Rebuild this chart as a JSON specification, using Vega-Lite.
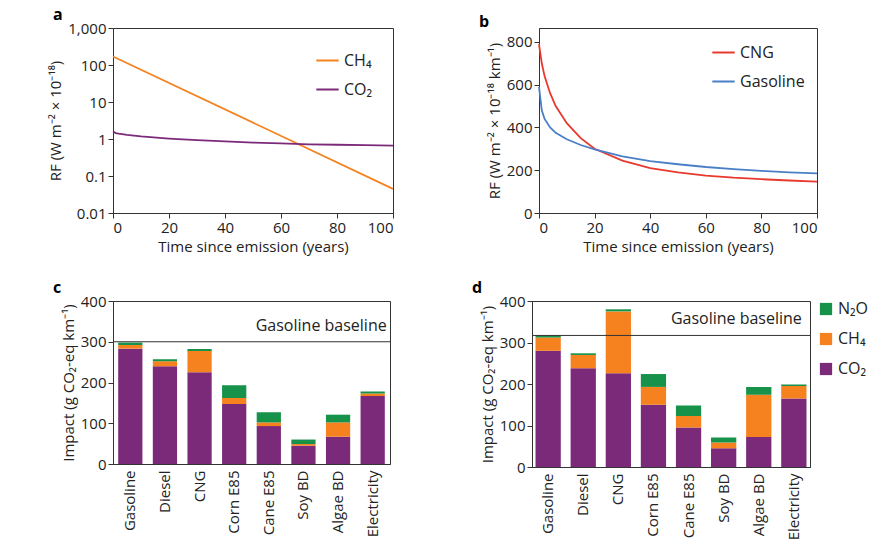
{
  "$schema": "https://vega.github.io/schema/vega-lite/v6.json",
  "padding": {"left": 48, "top": 6, "right": 0, "bottom": 0},
  "background": "white",
  "resolve": {"scale": {"color": "independent"}, "legend": {"color": "independent"}},
  "config": {
    "font": "Open Sans",
    "view": {"stroke": "#333", "strokeWidth": 1},
    "axis": {
      "grid": false, "domainColor": "#333", "tickColor": "#333", "labelFontSize": 15,
      "titleFontSize": 15, "titleFontWeight": "normal", "labelColor": "#222", "titleColor": "#222", "tickSize": 5
    },
    "title": {"anchor": "start", "fontSize": 16, "fontWeight": "bold", "frame": "group", "offset": 0},
    "legend": {"labelFontSize": 16, "labelColor": "#222", "title": null}
  },
  "datasets": {
    "a": [
      {"t": 0, "s": "CH₄", "v": 170}, {"t": 100, "s": "CH₄", "v": 0.045},
      {"t": 0, "s": "CO₂", "v": 1.6}, {"t": 1, "s": "CO₂", "v": 1.45}, {"t": 2, "s": "CO₂", "v": 1.4},
      {"t": 5, "s": "CO₂", "v": 1.3}, {"t": 10, "s": "CO₂", "v": 1.18}, {"t": 20, "s": "CO₂", "v": 1.03},
      {"t": 30, "s": "CO₂", "v": 0.93}, {"t": 40, "s": "CO₂", "v": 0.86}, {"t": 50, "s": "CO₂", "v": 0.8},
      {"t": 60, "s": "CO₂", "v": 0.76}, {"t": 70, "s": "CO₂", "v": 0.72}, {"t": 80, "s": "CO₂", "v": 0.7},
      {"t": 90, "s": "CO₂", "v": 0.68}, {"t": 100, "s": "CO₂", "v": 0.66}
    ],
    "b": [
      {"t": 0, "s": "CNG", "v": 790}, {"t": 1, "s": "CNG", "v": 700}, {"t": 2, "s": "CNG", "v": 640},
      {"t": 4, "s": "CNG", "v": 560}, {"t": 6, "s": "CNG", "v": 500}, {"t": 10, "s": "CNG", "v": 420},
      {"t": 15, "s": "CNG", "v": 350}, {"t": 20, "s": "CNG", "v": 300}, {"t": 30, "s": "CNG", "v": 245},
      {"t": 40, "s": "CNG", "v": 210}, {"t": 50, "s": "CNG", "v": 190}, {"t": 60, "s": "CNG", "v": 175},
      {"t": 70, "s": "CNG", "v": 165}, {"t": 80, "s": "CNG", "v": 158}, {"t": 90, "s": "CNG", "v": 152},
      {"t": 100, "s": "CNG", "v": 147},
      {"t": 0, "s": "Gasoline", "v": 590}, {"t": 1, "s": "Gasoline", "v": 480}, {"t": 2, "s": "Gasoline", "v": 440},
      {"t": 4, "s": "Gasoline", "v": 400}, {"t": 6, "s": "Gasoline", "v": 375}, {"t": 10, "s": "Gasoline", "v": 345},
      {"t": 15, "s": "Gasoline", "v": 318}, {"t": 20, "s": "Gasoline", "v": 298}, {"t": 30, "s": "Gasoline", "v": 265},
      {"t": 40, "s": "Gasoline", "v": 243}, {"t": 50, "s": "Gasoline", "v": 228}, {"t": 60, "s": "Gasoline", "v": 215},
      {"t": 70, "s": "Gasoline", "v": 205}, {"t": 80, "s": "Gasoline", "v": 197}, {"t": 90, "s": "Gasoline", "v": 190},
      {"t": 100, "s": "Gasoline", "v": 185}
    ],
    "c": [
      {"f": "Gasoline", "g": "CO₂", "o": 1, "v": 283}, {"f": "Gasoline", "g": "CH₄", "o": 2, "v": 9}, {"f": "Gasoline", "g": "N₂O", "o": 3, "v": 6},
      {"f": "Diesel", "g": "CO₂", "o": 1, "v": 240}, {"f": "Diesel", "g": "CH₄", "o": 2, "v": 12}, {"f": "Diesel", "g": "N₂O", "o": 3, "v": 5},
      {"f": "CNG", "g": "CO₂", "o": 1, "v": 225}, {"f": "CNG", "g": "CH₄", "o": 2, "v": 52}, {"f": "CNG", "g": "N₂O", "o": 3, "v": 5},
      {"f": "Corn E85", "g": "CO₂", "o": 1, "v": 147}, {"f": "Corn E85", "g": "CH₄", "o": 2, "v": 15}, {"f": "Corn E85", "g": "N₂O", "o": 3, "v": 31},
      {"f": "Cane E85", "g": "CO₂", "o": 1, "v": 93}, {"f": "Cane E85", "g": "CH₄", "o": 2, "v": 9}, {"f": "Cane E85", "g": "N₂O", "o": 3, "v": 25},
      {"f": "Soy BD", "g": "CO₂", "o": 1, "v": 45}, {"f": "Soy BD", "g": "CH₄", "o": 2, "v": 4}, {"f": "Soy BD", "g": "N₂O", "o": 3, "v": 11},
      {"f": "Algae BD", "g": "CO₂", "o": 1, "v": 67}, {"f": "Algae BD", "g": "CH₄", "o": 2, "v": 35}, {"f": "Algae BD", "g": "N₂O", "o": 3, "v": 19},
      {"f": "Electricity", "g": "CO₂", "o": 1, "v": 167}, {"f": "Electricity", "g": "CH₄", "o": 2, "v": 6}, {"f": "Electricity", "g": "N₂O", "o": 3, "v": 5}
    ],
    "d": [
      {"f": "Gasoline", "g": "CO₂", "o": 1, "v": 280}, {"f": "Gasoline", "g": "CH₄", "o": 2, "v": 32}, {"f": "Gasoline", "g": "N₂O", "o": 3, "v": 5},
      {"f": "Diesel", "g": "CO₂", "o": 1, "v": 238}, {"f": "Diesel", "g": "CH₄", "o": 2, "v": 32}, {"f": "Diesel", "g": "N₂O", "o": 3, "v": 4},
      {"f": "CNG", "g": "CO₂", "o": 1, "v": 226}, {"f": "CNG", "g": "CH₄", "o": 2, "v": 149}, {"f": "CNG", "g": "N₂O", "o": 3, "v": 5},
      {"f": "Corn E85", "g": "CO₂", "o": 1, "v": 150}, {"f": "Corn E85", "g": "CH₄", "o": 2, "v": 43}, {"f": "Corn E85", "g": "N₂O", "o": 3, "v": 31},
      {"f": "Cane E85", "g": "CO₂", "o": 1, "v": 95}, {"f": "Cane E85", "g": "CH₄", "o": 2, "v": 28}, {"f": "Cane E85", "g": "N₂O", "o": 3, "v": 25},
      {"f": "Soy BD", "g": "CO₂", "o": 1, "v": 45}, {"f": "Soy BD", "g": "CH₄", "o": 2, "v": 14}, {"f": "Soy BD", "g": "N₂O", "o": 3, "v": 12},
      {"f": "Algae BD", "g": "CO₂", "o": 1, "v": 72}, {"f": "Algae BD", "g": "CH₄", "o": 2, "v": 102}, {"f": "Algae BD", "g": "N₂O", "o": 3, "v": 19},
      {"f": "Electricity", "g": "CO₂", "o": 1, "v": 165}, {"f": "Electricity", "g": "CH₄", "o": 2, "v": 30}, {"f": "Electricity", "g": "N₂O", "o": 3, "v": 4}
    ],
    "one": [{"x": 1}]
  },
  "vconcat": [
    {
      "resolve": {"scale": {"color": "independent"}, "legend": {"color": "independent"}},
      "hconcat": [
        {
          "title": {"text": "a", "dx": -60, "dy": 6},
          "width": 280, "height": 185,
          "data": {"name": "a"},
          "mark": {"type": "line", "strokeWidth": 1.8},
          "encoding": {
            "x": {"field": "t", "type": "quantitative", "scale": {"domain": [0, 100]}, "axis": {"values": [0, 20, 40, 60, 80, 100], "title": "Time since emission (years)"}},
            "y": {"field": "v", "type": "quantitative", "scale": {"type": "log", "domain": [0.01, 1000]}, "axis": {"values": [0.01, 0.1, 1, 10, 100, 1000], "format": ",", "title": "RF (W m⁻² × 10⁻¹⁸)"}},
            "color": {"field": "s", "type": "nominal", "scale": {"domain": ["CH₄", "CO₂"], "range": ["#f5821f", "#7b2a7a"]},
              "legend": {"orient": "top-right", "symbolType": "stroke", "symbolSize": 500, "symbolStrokeWidth": 2, "offset": 20, "rowPadding": 8}}
          }
        },
        {
          "title": {"text": "b", "dx": -60, "dy": 6},
          "width": 278, "height": 185,
          "data": {"name": "b"},
          "mark": {"type": "line", "strokeWidth": 1.8},
          "encoding": {
            "x": {"field": "t", "type": "quantitative", "scale": {"domain": [0, 100]}, "axis": {"values": [0, 20, 40, 60, 80, 100], "title": "Time since emission (years)"}},
            "y": {"field": "v", "type": "quantitative", "scale": {"domain": [0, 865], "nice": false}, "axis": {"values": [0, 200, 400, 600, 800], "title": "RF (W m⁻² × 10⁻¹⁸ km⁻¹)"}},
            "color": {"field": "s", "type": "nominal", "scale": {"domain": ["CNG", "Gasoline"], "range": ["#e8392e", "#4a7fc8"]},
              "legend": {"orient": "top-right", "symbolType": "stroke", "symbolSize": 500, "symbolStrokeWidth": 2, "offset": 12, "rowPadding": 8}}
          }
        }
      ],
      "spacing": 80
    },
    {
      "resolve": {"scale": {"color": "independent"}, "legend": {"color": "independent"}},
      "hconcat": [
        {
          "title": {"text": "c", "dx": -60, "dy": 6},
          "width": 277, "height": 163,
          "layer": [
            {
              "data": {"name": "c"},
              "mark": {"type": "bar"},
              "encoding": {
                "x": {"field": "f", "type": "nominal", "sort": null, "scale": {"paddingInner": 0.3, "paddingOuter": 0.15}, "axis": {"title": null, "labelAngle": -90, "ticks": false, "labelPadding": 6}},
                "y": {"field": "v", "type": "quantitative", "stack": "zero", "scale": {"domain": [0, 400]}, "axis": {"values": [0, 100, 200, 300, 400], "title": "Impact (g CO₂-eq km⁻¹)"}},
                "color": {"field": "g", "type": "nominal", "scale": {"domain": ["N₂O", "CH₄", "CO₂"], "range": ["#16924a", "#f5821f", "#7b2a7a"]}, "legend": null},
                "order": {"field": "o", "type": "quantitative"}
              }
            },
            {
              "data": {"name": "one"},
              "mark": {"type": "rule", "color": "#333", "strokeWidth": 1},
              "encoding": {"y": {"datum": 300}}
            },
            {
              "data": {"name": "one"},
              "mark": {"type": "text", "fontSize": 16, "align": "right", "color": "#222", "dx": 14, "dy": -16},
              "encoding": {"y": {"datum": 300}, "x": {"datum": "Electricity"}, "text": {"value": "Gasoline baseline"}}
            }
          ]
        },
        {
          "title": {"text": "d", "dx": -60, "dy": 6},
          "width": 278, "height": 166,
          "layer": [
            {
              "data": {"name": "d"},
              "mark": {"type": "bar"},
              "encoding": {
                "x": {"field": "f", "type": "nominal", "sort": null, "scale": {"paddingInner": 0.28, "paddingOuter": 0.1}, "axis": {"title": null, "labelAngle": -90, "ticks": false, "labelPadding": 6}},
                "y": {"field": "v", "type": "quantitative", "stack": "zero", "scale": {"domain": [0, 400]}, "axis": {"values": [0, 100, 200, 300, 400], "title": "Impact (g CO₂-eq km⁻¹)"}},
                "color": {"field": "g", "type": "nominal", "scale": {"domain": ["N₂O", "CH₄", "CO₂"], "range": ["#16924a", "#f5821f", "#7b2a7a"]},
                  "legend": {"orient": "right", "symbolType": "square", "symbolSize": 150, "rowPadding": 14, "offset": 8, "labelOffset": 4}},
                "order": {"field": "o", "type": "quantitative"}
              }
            },
            {
              "data": {"name": "one"},
              "mark": {"type": "rule", "color": "#333", "strokeWidth": 1},
              "encoding": {"y": {"datum": 317}}
            },
            {
              "data": {"name": "one"},
              "mark": {"type": "text", "fontSize": 16, "align": "right", "color": "#222", "dx": 8, "dy": -16},
              "encoding": {"y": {"datum": 317}, "x": {"datum": "Electricity"}, "text": {"value": "Gasoline baseline"}}
            }
          ]
        }
      ],
      "spacing": 80
    }
  ],
  "spacing": 24
}
